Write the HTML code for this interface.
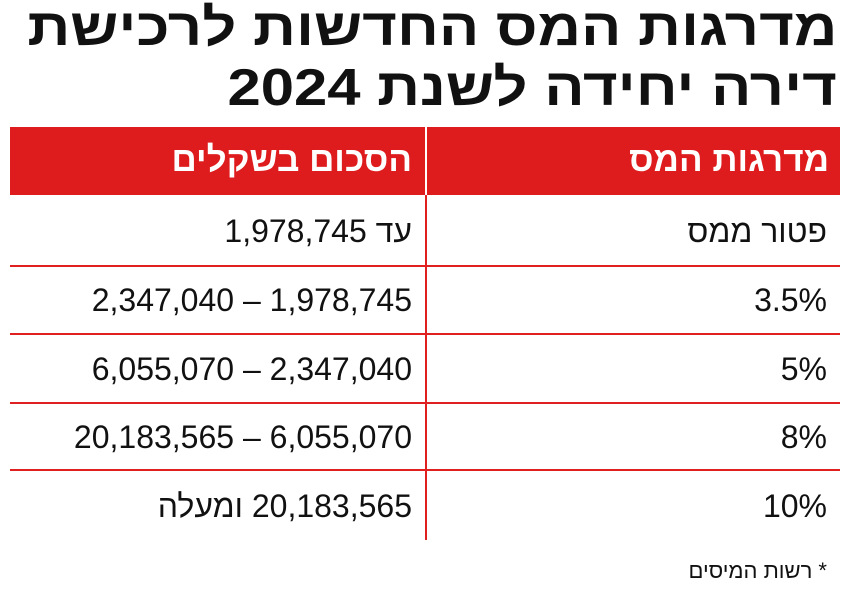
<!DOCTYPE html>
<html><head><meta charset="utf-8"><style>
body{margin:0;width:849px;height:599px;background:#fff;position:relative;overflow:hidden;font-family:"Liberation Sans","DejaVu Sans",sans-serif;color:#111}
.a{position:absolute;white-space:nowrap;direction:rtl}
.t{font-weight:bold;font-size:52px;right:12px;line-height:56px;transform:scaleX(1.15);transform-origin:right center}
.h{background:#de1b1d;position:absolute;top:127px;height:68px}
.ht{color:#fff;font-weight:bold;font-size:35px;top:140px}
.c{font-size:32px;line-height:36px}
.hl{position:absolute;left:10px;width:830px;height:2px;background:#e02020}
</style></head><body>
<div class="a t" style="top:0px">מדרגות המס החדשות לרכישת</div>
<div class="a t" style="top:60px">דירה יחידה לשנת 2024</div>
<div class="h" style="left:10px;width:415px"></div>
<div class="h" style="left:427px;width:413px"></div>
<div class="a ht" style="right:20px">מדרגות המס</div>
<div class="a ht" style="right:437px">הסכום בשקלים</div>
<div style="position:absolute;left:425px;top:195px;width:2px;height:345px;background:#e02020"></div>
<div class="hl" style="top:265px"></div>
<div class="hl" style="top:333px"></div>
<div class="hl" style="top:402px"></div>
<div class="hl" style="top:469px"></div>
<div class="a c" style="right:22px;top:213px">פטור ממס</div>
<div class="a c" style="right:437px;top:213px">עד 1,978,745</div>
<div class="a c" style="right:22px;top:282px">3.5%</div>
<div class="a c" style="right:437px;top:282px;direction:ltr">2,347,040 – 1,978,745</div>
<div class="a c" style="right:22px;top:351px">5%</div>
<div class="a c" style="right:437px;top:351px;direction:ltr">6,055,070 – 2,347,040</div>
<div class="a c" style="right:22px;top:419px">8%</div>
<div class="a c" style="right:437px;top:419px;direction:ltr">20,183,565 – 6,055,070</div>
<div class="a c" style="right:22px;top:488px">10%</div>
<div class="a c" style="right:437px;top:488px">20,183,565 ומעלה</div>
<div class="a" style="right:22px;top:558px;font-size:22px">* רשות המיסים</div>
</body></html>
